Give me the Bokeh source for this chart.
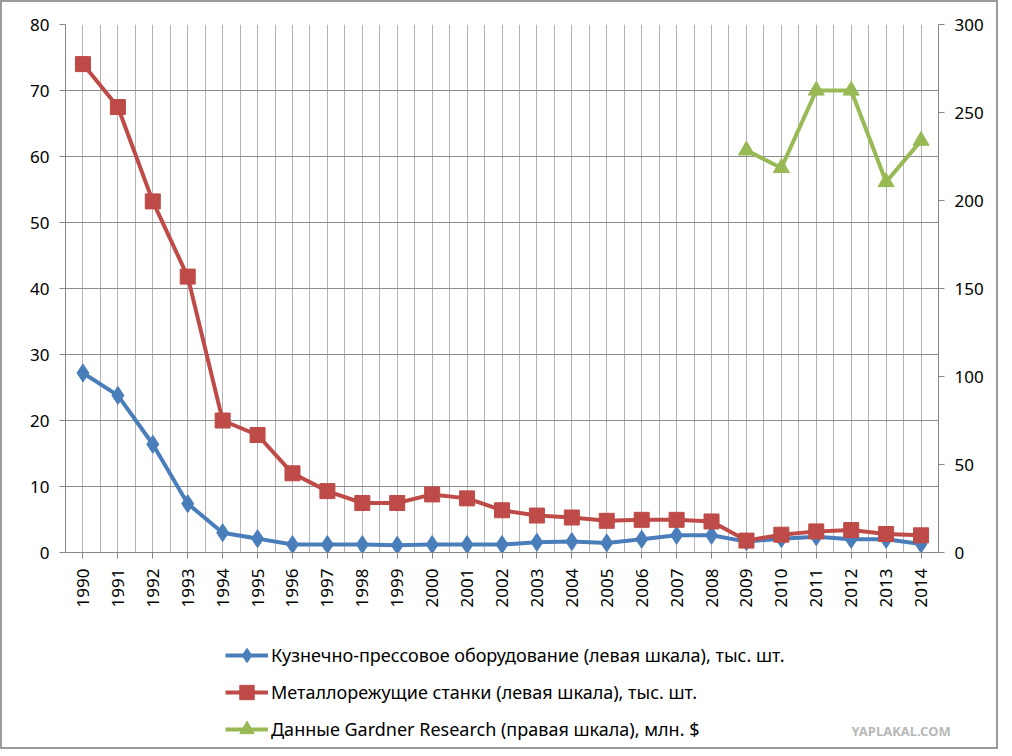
import math
from bokeh.plotting import figure
from bokeh.layouts import column
from bokeh.models import (Range1d, LinearAxis, FixedTicker, SingleIntervalTicker,
                          Legend, LegendItem, Label)
from bokeh.embed import file_html
from bokeh.resources import INLINE

years = list(range(1990, 2015))
forging = [27.2, 23.8, 16.4, 7.4, 3.0, 2.1, 1.2, 1.2, 1.2, 1.1, 1.2, 1.2, 1.2,
           1.55, 1.65, 1.45, 2.0, 2.6, 2.6, 1.65, 2.1, 2.4, 2.0, 2.0, 1.3]
machine_tools = [74.0, 67.5, 53.2, 41.8, 20.0, 17.8, 12.0, 9.3, 7.5, 7.5, 8.8, 8.2, 6.4,
                 5.6, 5.3, 4.8, 4.95, 4.95, 4.7, 1.8, 2.7, 3.2, 3.4, 2.8, 2.6]
gardner_years = [2009, 2010, 2011, 2012, 2013, 2014]
gardner = [228.5, 218.5, 262.5, 262.5, 210.5, 234.0]

labels = [
    "Кузнечно-прессовое оборудование (левая шкала), тыс. шт.",
    "Металлорежущие станки (левая шкала), тыс. шт.",
    "Данные Gardner Research (правая шкала), млн. $",
]

BLUE = "#4a7ebb"
RED = "#be4b48"
GREEN = "#98b954"
FONT = "Noto Sans"
FS = "17px"

p = figure(frame_width=873, frame_height=528, output_backend="svg", toolbar_location=None,
           x_range=Range1d(1989.5, 2014.5), y_range=Range1d(0, 80),
           min_border_left=63, min_border_right=58, min_border_top=22,
           min_border_bottom=58)
p.outline_line_color = None
p.background_fill_color = "white"
p.border_fill_color = "white"
p.extra_y_ranges = {"right": Range1d(0, 300)}


def style_axis(ax):
    ax.major_label_text_font = FONT
    ax.major_label_text_font_size = FS
    ax.major_label_text_color = "black"
    ax.major_label_standoff = 10
    ax.axis_line_color = "#868686"
    ax.major_tick_line_color = "#868686"
    ax.major_tick_in = 0
    ax.major_tick_out = 6
    ax.minor_tick_line_color = None


xa = p.xaxis[0]
xa.ticker = FixedTicker(ticks=years, minor_ticks=[y + 0.5 for y in range(1989, 2015)])
style_axis(xa)
xa.major_label_orientation = math.pi / 2

ya = p.yaxis[0]
ya.ticker = SingleIntervalTicker(interval=10)
style_axis(ya)

ra = LinearAxis(y_range_name="right", ticker=SingleIntervalTicker(interval=50))
style_axis(ra)
p.add_layout(ra, "right")

p.xgrid.grid_line_color = "#b4b4b4"
p.xgrid.minor_grid_line_color = "#b4b4b4"
p.ygrid.grid_line_color = "#8c8c8c"
p.ygrid.ticker = SingleIntervalTicker(interval=10)


def draw(fig, visible=True):
    l1 = fig.line(years, forging, line_color=BLUE, line_width=4, visible=visible)
    m1 = fig.scatter(years, forging, marker="diamond", size=18, fill_color=BLUE,
                     line_color=BLUE, visible=visible)
    l2 = fig.line(years, machine_tools, line_color=RED, line_width=4, visible=visible)
    m2 = fig.scatter(years, machine_tools, marker="square", size=15, fill_color=RED,
                     line_color=RED, visible=visible)
    l3 = fig.line(gardner_years, gardner, line_color=GREEN, line_width=4,
                  y_range_name="right", visible=visible)
    m3 = fig.scatter(gardner_years, gardner, marker="triangle", size=16, fill_color=GREEN,
                     line_color=GREEN, y_range_name="right", visible=visible)
    return [(l1, m1), (l2, m2), (l3, m3)]


draw(p)

# legend strip below the chart
p2 = figure(frame_width=992, frame_height=137, output_backend="svg", toolbar_location=None,
            x_axis_type=None, y_axis_type=None,
            x_range=Range1d(1989.5, 2014.5), y_range=Range1d(0, 80),
            min_border_left=0, min_border_right=0, min_border_top=0, min_border_bottom=0)
p2.extra_y_ranges = {"right": Range1d(0, 300)}
p2.outline_line_color = None
p2.xgrid.visible = False
p2.ygrid.visible = False
p2.background_fill_color = "white"
p2.border_fill_color = "white"
rs = draw(p2, visible=False)

legend = Legend(items=[LegendItem(label=lab, renderers=list(r)) for lab, r in zip(labels, rs)],
                location=(223, 0))
legend.border_line_color = None
legend.background_fill_alpha = 0
legend.inactive_fill_alpha = 0
legend.padding = 0
legend.margin = 0
legend.spacing = 1
legend.glyph_width = 43
legend.glyph_height = 36
legend.label_height = 36
legend.label_standoff = 3
legend.label_text_font = FONT
legend.label_text_font_size = "18px"
legend.label_text_color = "black"
p2.add_layout(legend, "center")

wm = Label(x=786, y=17, x_units="screen", y_units="screen", text="YAPLAKAL.COM",
           text_font=FONT, text_font_size="13px", text_font_style="bold",
           text_color="#b8b8b8", text_baseline="middle")
p2.add_layout(wm)

layout = column(p, p2, spacing=0)
layout.styles = {"border": "2px solid #9a9a9a", "box-sizing": "border-box"}

open("out.html", "w").write(file_html(layout, INLINE))
